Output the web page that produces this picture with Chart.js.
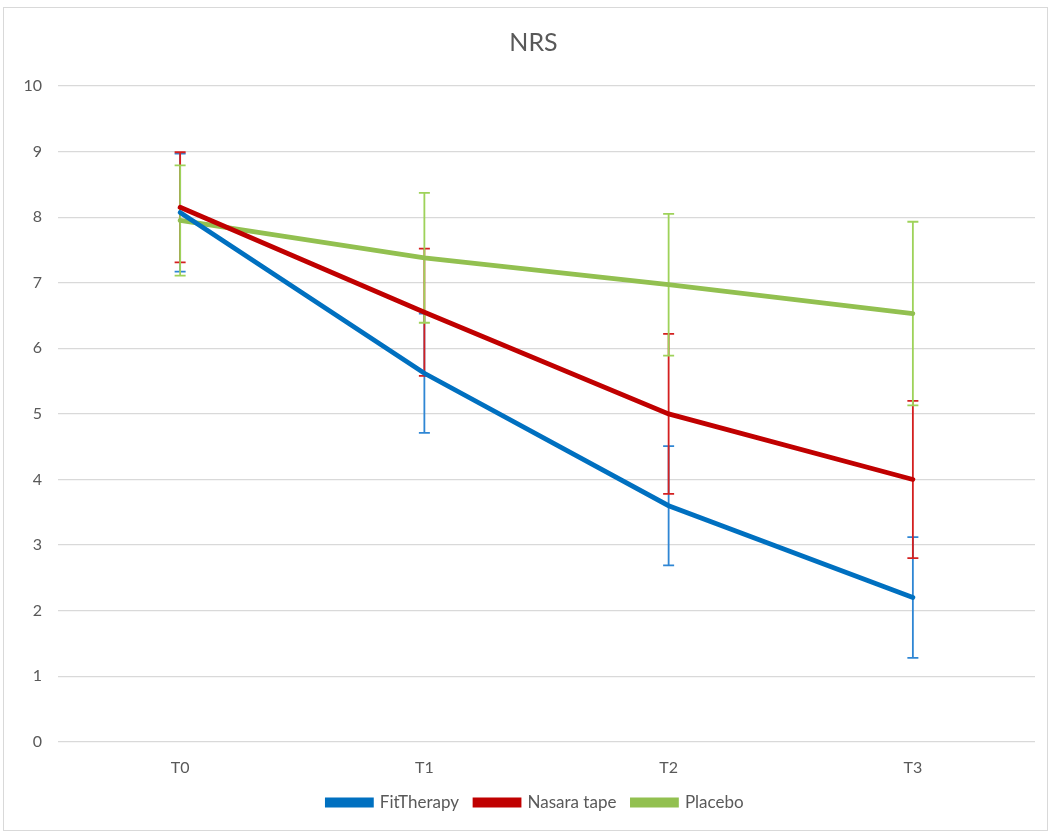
<!DOCTYPE html>
<html><head><meta charset="utf-8">
<script src="https://cdn.jsdelivr.net/npm/chart.js@4.4.1/dist/chart.umd.min.js"></script>
<style>
html,body{margin:0;padding:0;background:#fff;}
#frame{position:absolute;left:3px;top:7px;width:1045px;height:824px;border:1px solid #d9d9d9;box-sizing:border-box;}
#wrap{position:absolute;left:0;top:0;width:1051px;height:834px;}
</style></head>
<body>
<div id="frame"></div>
<div id="wrap"><canvas id="c" width="1051" height="834"></canvas></div>
<script>
const categories = ["T0", "T1", "T2", "T3"];
const fitTherapy = [8.07, 5.62, 3.60, 2.20];
const fitTherapyErr = [0.90, 0.91, 0.91, 0.92];
const nasaraTape = [8.15, 6.55, 5.00, 4.00];
const nasaraTapeErr = [0.84, 0.97, 1.22, 1.20];
const placebo = [7.95, 7.38, 6.97, 6.53];
const placeboErr = [0.84, 0.99, 1.08, 1.40];
const yTicks = [0,1,2,3,4,5,6,7,8,9,10];

const FONT = "Lato, 'Open Sans', sans-serif";
const LEGEND_SHIFT_Y = -15;
const LEGEND_SHIFT_X = 18;
const TITLE_SHIFT_X = 16;

const errorBars = {
  id: 'errorBars',
  beforeDatasetsDraw(chart) {
    const ctx = chart.ctx;
    const y = chart.scales.y;
    chart.data.datasets.forEach((ds, i) => {
      const meta = chart.getDatasetMeta(i);
      ctx.save();
      ctx.strokeStyle = ds.errColor;
      ctx.lineWidth = 1.8;
      meta.data.forEach((pt, j) => {
        const v = ds.data[j], e = ds.err[j];
        const x = pt.x;
        const yt = y.getPixelForValue(v + e);
        const yb = y.getPixelForValue(v - e);
        ctx.beginPath();
        ctx.moveTo(x, yt); ctx.lineTo(x, yb);
        ctx.moveTo(x - 5.5, yt); ctx.lineTo(x + 5.5, yt);
        ctx.moveTo(x - 5.5, yb); ctx.lineTo(x + 5.5, yb);
        ctx.stroke();
      });
      ctx.restore();
    });
  }
};

const blockShift = {
  id: 'blockShift',
  afterLayout(chart) {
    if (chart.legend) {
      chart.legend.top += LEGEND_SHIFT_Y; chart.legend.bottom += LEGEND_SHIFT_Y;
      chart.legend.left += LEGEND_SHIFT_X; chart.legend.right += LEGEND_SHIFT_X;
    }
    if (chart.titleBlock) {
      chart.titleBlock.left += TITLE_SHIFT_X; chart.titleBlock.right += TITLE_SHIFT_X;
    }
  }
};

new Chart(document.getElementById('c'), {
  type: 'line',
  data: {
    labels: categories,
    datasets: [
      {label: 'FitTherapy', data: fitTherapy, err: fitTherapyErr, borderColor: '#0070C0', backgroundColor: '#0070C0', errColor: '#2F86D4'},
      {label: 'Nasara tape', data: nasaraTape, err: nasaraTapeErr, borderColor: '#C00000', backgroundColor: '#C00000', errColor: '#D42020'},
      {label: 'Placebo', data: placebo, err: placeboErr, borderColor: '#92C050', backgroundColor: '#92C050', errColor: '#9ED25A'}
    ].map(d => Object.assign(d, {borderWidth: 4.8, pointRadius: 0, pointHoverRadius: 0, tension: 0, fill: false, borderCapStyle: 'round'}))
  },
  options: {
    responsive: false,
    animation: false,
    layout: {padding: {top: 22, left: 0, right: 16, bottom: -2}},
    plugins: {
      title: {display: true, text: 'NRS', color: '#595959', font: {family: FONT, size: 25, weight: 'normal'}, padding: {top: 6, bottom: 28}},
      legend: {
        position: 'bottom',
        labels: {color: '#595959', font: {family: FONT, size: 17}, boxWidth: 44, boxHeight: 5, padding: 16}
      },
      tooltip: {enabled: false}
    },
    scales: {
      x: {
        offset: true,
        grid: {display: false, drawTicks: false},
        border: {display: false},
        ticks: {color: '#595959', font: {family: FONT, size: 16}, padding: 16}
      },
      y: {
        min: 0, max: 10,
        afterBuildTicks(s) { s.ticks = yTicks.map(v => ({value: v})); },
        afterFit(s) { s.width = 58; },
        grid: {color: '#d9d9d9', lineWidth: 1.3, drawTicks: false},
        border: {display: false},
        ticks: {color: '#595959', font: {family: FONT, size: 16}, padding: 16}
      }
    }
  },
  plugins: [errorBars, blockShift]
});
</script>
</body></html>
